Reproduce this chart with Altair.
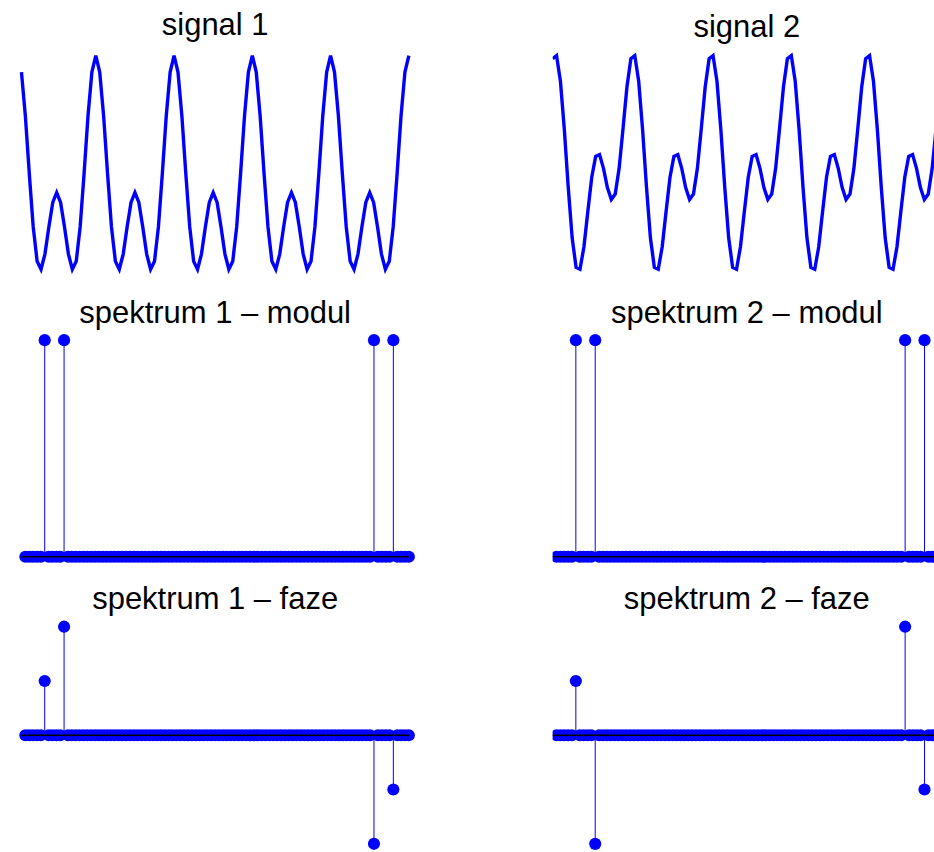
import altair as alt
import pandas as pd

# ---------------------------------------------------------------- data ----
# sample number n = 1..100 (the spectra use the same 1-based bin axis)
sample = list(range(1, 101))

signal_1 = [
    1.7601, 1.1180, 0.2788, -0.5000, -1.0000, -1.1180, -0.8968, -0.5000, -0.1421, 0.0000,
    -0.1421, -0.5000, -0.8968, -1.1180, -1.0000, -0.5000, 0.2788, 1.1180, 1.7601, 2.0000,
    1.7601, 1.1180, 0.2788, -0.5000, -1.0000, -1.1180, -0.8968, -0.5000, -0.1421, 0.0000,
    -0.1421, -0.5000, -0.8968, -1.1180, -1.0000, -0.5000, 0.2788, 1.1180, 1.7601, 2.0000,
    1.7601, 1.1180, 0.2788, -0.5000, -1.0000, -1.1180, -0.8968, -0.5000, -0.1421, 0.0000,
    -0.1421, -0.5000, -0.8968, -1.1180, -1.0000, -0.5000, 0.2788, 1.1180, 1.7601, 2.0000,
    1.7601, 1.1180, 0.2788, -0.5000, -1.0000, -1.1180, -0.8968, -0.5000, -0.1421, 0.0000,
    -0.1421, -0.5000, -0.8968, -1.1180, -1.0000, -0.5000, 0.2788, 1.1180, 1.7601, 2.0000,
    1.7601, 1.1180, 0.2788, -0.5000, -1.0000, -1.1180, -0.8968, -0.5000, -0.1421, 0.0000,
    -0.1421, -0.5000, -0.8968, -1.1180, -1.0000, -0.5000, 0.2788, 1.1180, 1.7601, 2.0000,
]

signal_2 = [
    1.7601, 1.8090, 1.3968, 0.6180, -0.3090, -1.1180, -1.5878, -1.6180, -1.2601, -0.6910,
    -0.1421, 0.1910, 0.2212, 0.0000, -0.3090, -0.5000, -0.4122, 0.0000, 0.6421, 1.3090,
    1.7601, 1.8090, 1.3968, 0.6180, -0.3090, -1.1180, -1.5878, -1.6180, -1.2601, -0.6910,
    -0.1421, 0.1910, 0.2212, 0.0000, -0.3090, -0.5000, -0.4122, 0.0000, 0.6421, 1.3090,
    1.7601, 1.8090, 1.3968, 0.6180, -0.3090, -1.1180, -1.5878, -1.6180, -1.2601, -0.6910,
    -0.1421, 0.1910, 0.2212, 0.0000, -0.3090, -0.5000, -0.4122, 0.0000, 0.6421, 1.3090,
    1.7601, 1.8090, 1.3968, 0.6180, -0.3090, -1.1180, -1.5878, -1.6180, -1.2601, -0.6910,
    -0.1421, 0.1910, 0.2212, 0.0000, -0.3090, -0.5000, -0.4122, 0.0000, 0.6421, 1.3090,
    1.7601, 1.8090, 1.3968, 0.6180, -0.3090, -1.1180, -1.5878, -1.6180, -1.2601, -0.6910,
    -0.1421, 0.1910, 0.2212, 0.0000, -0.3090, -0.5000, -0.4122, 0.0000, 0.6421, 1.3090,
]

# bins carrying energy (1-based); every other bin is zero
peak_bins = [6, 11, 91, 96]
modul_1 = [50.0, 50.0, 50.0, 50.0]
modul_2 = [50.0, 50.0, 50.0, 50.0]
faze_1 = [0.3142, 0.6283, -0.6283, -0.3142]
faze_2 = [0.3142, -0.6283, 0.6283, -0.3142]

titles = [
    ["signal 1", "signal 2"],
    ["spektrum 1 – modul", "spektrum 2 – modul"],
    ["spektrum 1 – faze", "spektrum 2 – faze"],
]

# -------------------------------------------------------------- layout ----
BLUE = "#0000ff"
FONT = "Liberation Sans"
TITLE_SIZE = 31
DOT_AREA = 148

LEFT_W = 388          # plot width of the left column
RIGHT_W = 382         # the right column runs off the page edge
COL_GAP = 144
ROW_GAP = 50

# rows in page pixels: group top/bottom, two reference values and where they
# sit, and the title offset
ROWS = [
    dict(top=50, bottom=282, refs=None, offset=-17),
    dict(top=332, bottom=570, refs=(50.0, 340, 0.0, 557), offset=-22),
    dict(top=620, bottom=854, refs=(0.6283, 627, -0.6283, 844.5), offset=-20),
]


def y_domain(v_top, y_top, v_bot, y_bot, top, bottom):
    per_px = (v_top - v_bot) / (y_bot - y_top)
    return [v_bot - (bottom - y_bot) * per_px, v_top + (y_top - top) * per_px]


def x_scale(lo, hi, width):
    span = (hi - lo) * width / LEFT_W
    return alt.Scale(domain=[lo, lo + span], nice=False, zero=False)


def make_title(text, row, col):
    return alt.Title(
        text,
        font=FONT,
        fontSize=TITLE_SIZE,
        fontWeight="normal",
        color="black",
        anchor="middle",
        frame="group",
        baseline="alphabetic",
        offset=ROWS[row]["offset"],
        dx=3.5 if col == 1 else 0,
    )


def signal_panel(values, col):
    r = ROWS[0]
    width = LEFT_W if col == 0 else RIGHT_W
    df = pd.DataFrame({"n": sample, "v": values})
    vmax, vmin = max(values), min(values)
    dom = y_domain(vmax, 55, vmin, 269, r["top"], r["bottom"])
    return (
        alt.Chart(df, title=make_title(titles[0][col], 0, col))
        .mark_line(color=BLUE, strokeWidth=3.4, clip=(col == 1))
        .encode(
            x=alt.X("n:Q", scale=x_scale(1, 100, width), axis=None),
            y=alt.Y("v:Q", scale=alt.Scale(domain=dom, nice=False, zero=False), axis=None),
        )
        .properties(width=width, height=r["bottom"] - r["top"])
    )


def stem_panel(values, row, col):
    r = ROWS[row]
    width = LEFT_W if col == 0 else RIGHT_W
    lookup = dict(zip(peak_bins, values))
    df = pd.DataFrame({"bin": sample, "v": [lookup.get(b, 0.0) for b in sample]})
    dom = y_domain(*r["refs"], r["top"], r["bottom"])
    xs = x_scale(0, 100, width)
    ys = alt.Scale(domain=dom, nice=False, zero=False)
    clip = col == 1

    stems = alt.Chart(df).mark_rule(color=BLUE, strokeWidth=1, clip=clip).encode(
        x=alt.X("bin:Q", scale=xs, axis=None),
        y=alt.Y("v:Q", scale=ys, axis=None),
        y2=alt.datum(0),
    )
    dots = alt.Chart(df).mark_circle(
        color=BLUE, opacity=1, size=DOT_AREA, clip=clip
    ).encode(
        x=alt.X("bin:Q", scale=xs, axis=None),
        y=alt.Y("v:Q", scale=ys, axis=None),
    )
    baseline = alt.Chart(pd.DataFrame({"a": [0], "b": [100], "z": [0]})).mark_rule(
        color="black", strokeWidth=1.5, clip=clip
    ).encode(
        x=alt.X("a:Q", scale=xs, axis=None),
        x2="b:Q",
        y=alt.Y("z:Q", scale=ys, axis=None),
    )
    return alt.layer(stems, dots, baseline, title=make_title(titles[row][col], row, col)).properties(
        width=width, height=r["bottom"] - r["top"]
    )


panels = [
    signal_panel(signal_1, 0), signal_panel(signal_2, 1),
    stem_panel(modul_1, 1, 0), stem_panel(modul_2, 1, 1),
    stem_panel(faze_1, 2, 0), stem_panel(faze_2, 2, 1),
]

chart = (
    alt.ConcatChart(
        concat=panels,
        columns=2,
        spacing={"row": ROW_GAP, "column": COL_GAP},
        bounds="flush",
    )
    .properties(padding={"left": 14.5, "top": 9, "right": 0, "bottom": 0},
                background="white")
    .configure_view(stroke=None)
)

chart.save("out.html", embed_options={"renderer": "svg", "actions": False})
